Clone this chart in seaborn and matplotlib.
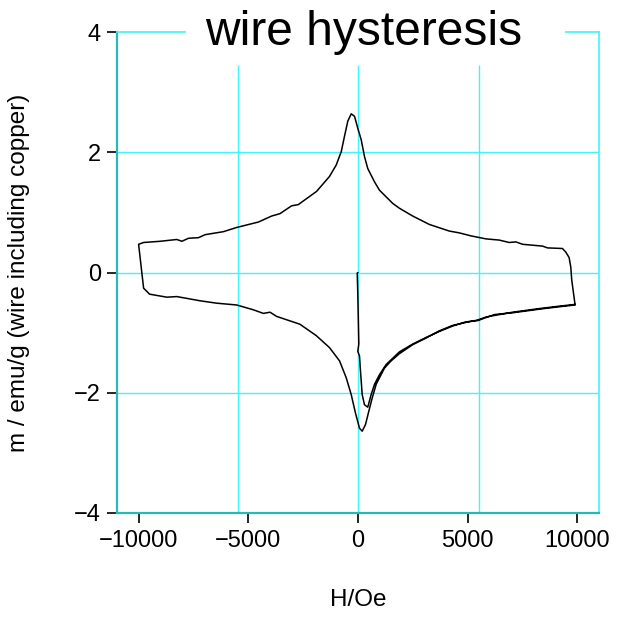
import numpy as np
import pandas as pd
import matplotlib
matplotlib.use("Agg")
import matplotlib.pyplot as plt
from matplotlib.patches import Rectangle
import seaborn as sns

# Field (Oe) and magnetisation (emu/g) along the measured loop, branch by branch
h_virgin = [0, -36, -9, 37, -9, 68, 114, 191, 296, 446]
m_virgin = [0.0, -0.01, -0.36, -1.19, -1.31, -1.39, -1.64, -2.03, -2.2, -2.24]

h_down_right = [601, 752, 980, 1285, 1891, 2497, 3107, 3713, 4320, 4928, 5461,
                5841, 6219, 6447, 7054, 7662, 8268, 9172, 9909]
m_down_right = [-2.03, -1.86, -1.7, -1.53, -1.32, -1.19, -1.08, -0.98, -0.89, -0.82, -0.8,
                -0.75, -0.7, -0.69, -0.67, -0.64, -0.61, -0.57, -0.54]

h_edge_right = [9757, 9712, 9636, 9484, 9331]
m_edge_right = [-0.13, 0.09, 0.25, 0.34, 0.40]

h_upper = [8648, 8420, 7510, 7206, 6902, 6447, 5841, 5157, 4624, 4169, 3258, 2497,
           1891, 1586, 980, 752, 446, 296, 146, -9, -159, -310, -465, -615, -765,
           -993, -1298, -1891, -2726, -3030, -3562, -3941, -4548, -5535, -6142,
           -6978, -7281, -7737, -8040, -8270, -9030, -9786, -10014]
m_upper = [0.41, 0.44, 0.47, 0.51, 0.50, 0.54, 0.56, 0.61, 0.66, 0.69, 0.80, 0.94,
           1.07, 1.15, 1.37, 1.51, 1.73, 1.93, 2.21, 2.40, 2.60, 2.64, 2.52, 2.27, 2.01,
           1.79, 1.60, 1.35, 1.13, 1.11, 0.98, 0.94, 0.84, 0.75, 0.68,
           0.63, 0.58, 0.57, 0.52, 0.55, 0.52, 0.50, 0.47]

h_lower = [-9786, -9513, -8725, -8270, -7208, -6447, -5535, -4775, -4319, -4016,
           -3713, -2651, -1904, -1298, -843, -538, -310, -114, 68, 191, 342, 492,
           647, 829, 1208, 1512, 1891, 2497, 3107, 3713, 4320, 4928, 5461, 5841,
           6447, 7054, 7662, 8268, 9172, 9909]
m_lower = [-0.26, -0.36, -0.41, -0.40, -0.47, -0.51, -0.54, -0.62, -0.68, -0.66,
           -0.73, -0.86, -1.05, -1.25, -1.47, -1.75, -2.03, -2.34, -2.59, -2.64, -2.53, -2.31,
           -2.09, -1.86, -1.59, -1.47, -1.35, -1.2, -1.09, -0.97, -0.88, -0.83, -0.79, -0.74,
           -0.70, -0.66, -0.63, -0.60, -0.56, -0.53]

x_ticks = [-10000, -5000, 0, 5000, 10000]
y_ticks = [-4, -2, 0, 2, 4]
x_grid = [-5500, 0, 5500]
y_grid = [-2, 0, 2]

h = h_virgin + h_down_right + h_edge_right + h_upper + h_lower
m = m_virgin + m_down_right + m_edge_right + m_upper + m_lower
loop = pd.DataFrame({"H": h, "m": m})

sns.set_theme(style="white")
plt.rcParams["font.family"] = ["Liberation Sans", "DejaVu Sans"]
plt.rcParams["axes.unicode_minus"] = True
plt.rcParams["text.color"] = "black"
plt.rcParams["axes.labelcolor"] = "black"
plt.rcParams["xtick.color"] = "black"
plt.rcParams["ytick.color"] = "black"

fig = plt.figure(figsize=(6.25, 6.18), dpi=100)
ax = fig.add_axes([0.1872, 0.170, 0.7712, 0.778])

cyan = "#3ff5f5"
teal = "#27b9b4"

# grid lines
for yv in y_grid:
    ax.axhline(yv, color=cyan, lw=1.0, zorder=1)
for xv in x_grid:
    ax.vlines(xv, -4, 3.45, color=cyan, lw=1.0, zorder=1)

sns.lineplot(data=loop, x="H", y="m", sort=False, estimator=None,
             color="black", lw=1.1, ax=ax, zorder=3)

ax.set_xlim(-11000, 11000)
ax.set_ylim(-4, 4)
ax.set_xticks(x_ticks)
ax.set_yticks(y_ticks)
ax.tick_params(axis="both", which="major", direction="out", length=7.5, width=1.2,
               color="black", labelcolor="black", labelsize=17, bottom=True, left=True)
ax.tick_params(axis="x", pad=5)
ax.tick_params(axis="y", pad=4)

for side in ["left", "bottom"]:
    ax.spines[side].set_color(teal)
    ax.spines[side].set_linewidth(1.6)
for side in ["top", "right"]:
    ax.spines[side].set_color(cyan)
    ax.spines[side].set_linewidth(1.2)

ax.set_xlabel("H/Oe", fontsize=17.5, color="black")
ax.set_ylabel("m / emu/g (wire including copper)", fontsize=17.5, color="black")
ax.xaxis.set_label_coords(0.5, -0.158)
ax.yaxis.set_label_coords(-0.18, 0.5)

# white band behind the title, breaking the top frame line
ax.add_patch(Rectangle((0.143, 0.97), 0.786, 0.06, transform=ax.transAxes,
                       facecolor="white", edgecolor="none", clip_on=False, zorder=4))
ax.text(0.511, 1.0, "wire hysteresis", transform=ax.transAxes, ha="center", va="center",
        fontsize=34.5, color="black", zorder=5, clip_on=False)

fig.savefig("out.png", dpi=100)
